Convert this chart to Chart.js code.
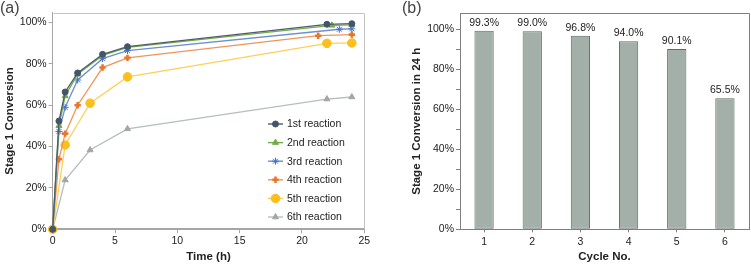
<!DOCTYPE html>
<html>
<head>
<meta charset="utf-8">
<script src="https://cdn.jsdelivr.net/npm/chart.js@4.4.1/dist/chart.umd.min.js"></script>
<style>
  body { margin: 0; background: #fff; }
  #wrap { position: relative; width: 751px; height: 265px; overflow: hidden; }
  .panel { position: absolute; top: 0; }
  .tag { position: absolute; top: -1px; font: 16px "Liberation Sans", Arial, sans-serif; color: #444; }
</style>
</head>
<body>
<div id="wrap">
  <div class="panel" style="left:0"><canvas id="kinetics" width="376" height="265"></canvas></div>
  <div class="panel" style="left:376px"><canvas id="cycles" width="375" height="265"></canvas></div>
  <div class="tag" style="left:0">(a)</div>
  <div class="tag" style="left:402px">(b)</div>
</div>
<script>
// panel (a): time course, per reaction
const time1 = [0, 0.5, 1, 2, 4, 6, 22, 24];
const conv1 = [0, 52.3, 66.3, 75.5, 84.5, 88.2, 99.0, 99.3];
const time2 = [0, 0.5, 1, 2, 4, 6, 22.4, 24];
const conv2 = [0, 50.0, 64.4, 74.9, 84.0, 87.9, 98.5, 98.7];
const time3 = [0, 0.5, 1, 2, 4, 6, 23, 24];
const conv3 = [0, 47.2, 58.9, 72.1, 82.4, 86.3, 96.6, 96.8];
const time4 = [0, 0.5, 1, 2, 4, 6, 21.3, 24];
const conv4 = [0, 33.8, 46.2, 59.9, 78.1, 82.8, 93.5, 94.0];
const time5 = [0, 1, 3, 6, 22, 24];
const conv5 = [0, 40.7, 60.9, 73.6, 89.8, 90.0];
const time6 = [0, 1, 3, 6, 22, 24];
const conv6 = [0, 23.8, 38.3, 48.5, 62.9, 63.9];
const reactionNames = ["1st reaction", "2nd reaction", "3rd reaction", "4th reaction", "5th reaction", "6th reaction"];

// panel (b): conversion after 24 h per cycle
const cycleLabels = ["1", "2", "3", "4", "5", "6"];
const cycleConv = [99.3, 99.0, 96.8, 94.0, 90.1, 65.5];

const pctTicks = [0, 20, 40, 60, 80, 100];

Chart.defaults.font.family = "'Liberation Sans', Arial, sans-serif";
Chart.defaults.font.size = 10.5;
Chart.defaults.color = "#222";

function pts(xs, ys) {
  return xs.map((x, i) => ({ x: x, y: ys[i] }));
}

const styles = [
  { color: "#44546a", line: "#4f5b6e", pointStyle: "circle", radius: 3 },
  { color: "#70ad47", line: "#70ad47", pointStyle: "triangle", radius: 3.5 },
  { color: "#4472c4", line: "#6b8fd0", pointStyle: "star", radius: 3.5 },
  { color: "#e8772e", line: "#ef955a", pointStyle: "cross", radius: 3.2, bw: 2.6 },
  { color: "#fbbf1e", line: "#fcd05a", pointStyle: "circle", radius: 4.3 },
  { color: "#a5a5a5", line: "#b3c0b9", pointStyle: "triangle", radius: 3.5 },
];
const series = [pts(time1, conv1), pts(time2, conv2), pts(time3, conv3), pts(time4, conv4), pts(time5, conv5), pts(time6, conv6)];

const frameBox = {
  id: "frameBox",
  afterDraw(chart, args, opts) {
    const a = chart.chartArea;
    const ctx = chart.ctx;
    ctx.save();
    ctx.strokeStyle = opts.color;
    ctx.lineWidth = 1;
    ctx.beginPath();
    ctx.moveTo(Math.round(a.left) + 0.5, Math.round(a.top) + 0.5);
    ctx.lineTo(Math.round(a.right) + 0.5, Math.round(a.top) + 0.5);
    ctx.lineTo(Math.round(a.right) + 0.5, Math.round(a.bottom));
    ctx.stroke();
    ctx.restore();
  }
};

const insideLegend = {
  id: "insideLegend",
  afterDraw(chart) {
    const ctx = chart.ctx;
    chart.data.datasets.forEach((ds, i) => {
      const y = 124 + i * 18.6;
      ctx.save();
      ctx.strokeStyle = ds.borderColor;
      ctx.lineWidth = 1.4;
      ctx.beginPath();
      ctx.moveTo(268, y);
      ctx.lineTo(283, y);
      ctx.stroke();
      ctx.fillStyle = ds.pointBackgroundColor;
      ctx.strokeStyle = ds.pointBorderColor;
      ctx.lineWidth = ds.pointBorderWidth;
      Chart.helpers.drawPoint(ctx, { pointStyle: ds.pointStyle, radius: ds.pointRadius, borderWidth: ds.pointBorderWidth, rotation: 0 }, 275.5, y);
      ctx.fillStyle = "#222";
      ctx.font = "10.5px 'Liberation Sans', Arial, sans-serif";
      ctx.textBaseline = "middle";
      ctx.textAlign = "left";
      ctx.fillText(ds.label, 287, y + 0.5);
      ctx.restore();
    });
  }
};

new Chart(document.getElementById("kinetics"), {
  type: "scatter",
  data: {
    datasets: series.map((d, i) => ({
      label: reactionNames[i],
      data: d,
      showLine: true,
      borderColor: styles[i].line,
      borderWidth: 1.3,
      pointStyle: styles[i].pointStyle,
      pointRadius: styles[i].radius,
      pointHoverRadius: styles[i].radius,
      pointBackgroundColor: styles[i].color,
      pointBorderColor: styles[i].color,
      pointBorderWidth: styles[i].bw || 1,
      clip: false,
    })),
  },
  options: {
    responsive: false,
    animation: false,
    devicePixelRatio: 1,
    layout: { padding: { left: 0, right: 11.7, top: 12.7, bottom: 0 } },
    plugins: {
      legend: { display: false },
      tooltip: { enabled: false },
      frameBox: { color: "#c4c4c4" },
    },
    scales: {
      x: {
        type: "linear",
        min: 0,
        max: 25,
        ticks: { stepSize: 5, padding: 2, maxRotation: 0 },
        grid: { drawOnChartArea: false, tickLength: 4, color: "#a6a6a6" },
        border: { color: "#a6a6a6", width: 2 },
        title: { display: true, text: "Time (h)", font: { size: 11.5, weight: "bold" }, padding: { top: 0, bottom: 1.1 } },
        afterFit: (s) => { s.height = 35.7; },
      },
      y: {
        min: 0,
        max: 104.6,
        afterBuildTicks: (s) => { s.ticks = pctTicks.map((v) => ({ value: v })); },
        ticks: { callback: (v) => v + "%", padding: 2 },
        grid: { drawOnChartArea: false, tickLength: 4, color: "#a6a6a6" },
        border: { color: "#a6a6a6", width: 1 },
        title: { display: true, text: "Stage 1 Conversion", font: { size: 11.5, weight: "bold" }, padding: { top: 3.1, bottom: 0 } },
        afterFit: (s) => { s.width = 52.7; },
      },
    },
  },
  plugins: [frameBox, insideLegend],
});

const barLabels = {
  id: "barLabels",
  afterDatasetsDraw(chart) {
    const ctx = chart.ctx;
    const meta = chart.getDatasetMeta(0);
    ctx.save();
    ctx.fillStyle = "#222";
    ctx.font = "10.5px 'Liberation Sans', Arial, sans-serif";
    ctx.textAlign = "center";
    ctx.textBaseline = "middle";
    meta.data.forEach((bar, i) => {
      ctx.fillText(cycleConv[i].toFixed(1) + "%", bar.x, bar.y - 8);
    });
    ctx.restore();
  }
};

new Chart(document.getElementById("cycles"), {
  type: "bar",
  data: {
    labels: cycleLabels,
    datasets: [{
      data: cycleConv,
      backgroundColor: "#a3afa9",
      borderColor: "#5e6a64",
      borderWidth: 1,
      borderSkipped: false,
      categoryPercentage: 0.8,
      barPercentage: 0.5,
    }],
  },
  options: {
    responsive: false,
    animation: false,
    devicePixelRatio: 1,
    layout: { padding: { left: 0, right: 2, top: 13.3, bottom: 0 } },
    plugins: {
      legend: { display: false },
      tooltip: { enabled: false },
      frameBox: { color: "#7f7f7f" },
    },
    scales: {
      x: {
        ticks: { padding: 4, maxRotation: 0 },
        grid: { drawOnChartArea: false, offset: false, tickLength: 3, color: "#7f7f7f" },
        border: { color: "#7f7f7f", width: 1 },
        title: { display: true, text: "Cycle No.", font: { size: 11.5, weight: "bold" }, padding: { top: 0, bottom: 1.1 } },
        afterFit: (s) => { s.height = 35.7; },
      },
      y: {
        min: 0,
        max: 108,
        ticks: { stepSize: 10, includeBounds: false, padding: 2, callback: (v) => (v % 20 === 0 ? v + "%" : "") },
        grid: { drawOnChartArea: false, tickLength: 4, color: "#7f7f7f" },
        border: { color: "#7f7f7f", width: 1 },
        title: { display: true, text: "Stage 1 Conversion in 24 h", font: { size: 11.5, weight: "bold" }, padding: { top: 33.8, bottom: 0 } },
        afterFit: (s) => { s.width = 84; },
      },
    },
  },
  plugins: [frameBox, barLabels],
});
</script>
</body>
</html>
